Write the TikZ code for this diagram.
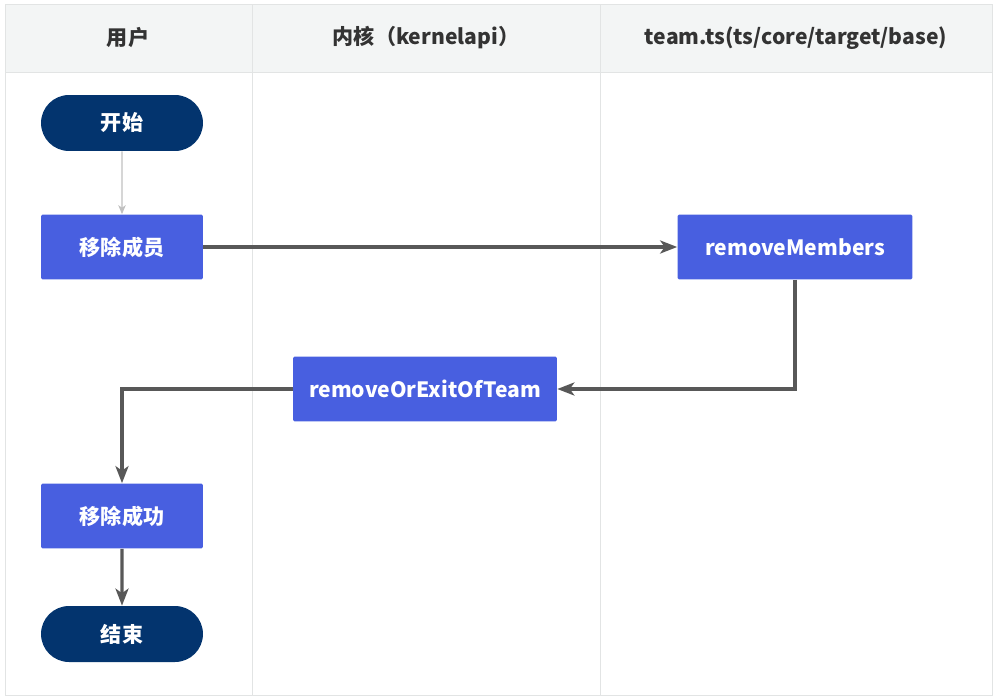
\documentclass[tikz,border=0pt]{standalone}
\usepackage{fontspec}
\setmainfont{Noto Sans CJK SC}
\usepackage{tikz}
\usetikzlibrary{positioning, shapes.misc, arrows.meta}
\definecolor{lnNavy}{RGB}{3, 52, 110}
\definecolor{lnBlue}{RGB}{72, 95, 224}
\definecolor{lnHead}{RGB}{243, 245, 245}
\definecolor{lnRule}{RGB}{226, 228, 228}
\definecolor{lnText}{RGB}{51, 51, 51}
\definecolor{lnFlow}{RGB}{88, 88, 88}
\definecolor{lnSoft}{RGB}{192, 192, 192}
\tikzset{
    base/.style={
        font=\bfseries\fontsize{12}{14}\selectfont,
        align=center
    },
    terminal/.style={
        base,
        rounded rectangle,
        fill=lnNavy,
        text=white,
        minimum width=3.24cm,
        minimum height=1.12cm,
        inner sep=0pt
    },
    process/.style={
        base,
        rectangle,
        rounded corners=0.3mm,
        fill=lnBlue,
        text=white,
        minimum height=1.3cm,
        inner sep=0pt
    },
    header/.style={
        base,
        text=lnText
    },
    lane/.style={
        draw=lnRule,
        line width=0.5pt
    },
    flow/.style={
        -{Stealth[length=3.4mm, width=2.6mm, inset=0.9mm]},
        line width=1.8pt,
        color=lnFlow
    },
    soft/.style={
        -{Stealth[length=1.8mm, width=1.5mm, inset=0.5mm]},
        line width=0.6pt,
        color=lnSoft
    }
}
\begin{document}
\begin{tikzpicture}[x=0.02cm, y=-0.02cm]
  \useasboundingbox (0,0) rectangle (1000,699);

  % Lanes
  \fill[lnHead] (5,4) rectangle (992,72);
  \draw[lane] (5,4) rectangle (992,695);
  \draw[lane] (5,72) -- (992,72);
  \draw[lane] (252,4) -- (252,695);
  \draw[lane] (600,4) -- (600,695);

  % Lane titles
  \node[header] (hUser) at (128,38) {用户};
  \node[header] (hKernel) at (426,38) {内核（kernelapi）};
  \node[header] (hTeam) at (796,38) {team.ts(ts/core/target/base)};

  % Steps
  \node[terminal] (start) at (122,123) {开始};
  \node[process, minimum width=3.24cm] (remove) at (122,247) {移除成员};
  \node[process, minimum width=4.7cm] (members) at (795,247) {removeMembers};
  \node[process, minimum width=5.28cm] (exit) at (425,389) {removeOrExitOfTeam};
  \node[process, minimum width=3.24cm] (success) at (122,516) {移除成功};
  \node[terminal] (finish) at (122,634) {结束};

  % Connectors
  \draw[soft] (start) -- (remove);
  \draw[flow] (remove) -- (members);
  \draw[flow] (members.south) |- (exit.east);
  \draw[flow] (exit.west) -| (success.north);
  \draw[flow] (success) -- (finish);
\end{tikzpicture}
\end{document}
